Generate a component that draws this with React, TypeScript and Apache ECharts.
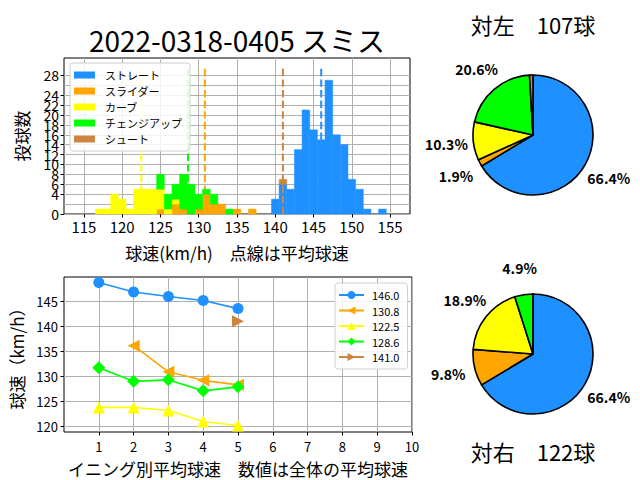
import React, { useEffect, useRef } from "react";
import * as echarts from "echarts";

const JP = "'Noto Sans CJK JP', sans-serif";

const pitchTypes = ["ストレート", "スライダー", "カーブ", "チェンジアップ", "シュート"];
const pitchColors = ["#1E90FF", "#FFA500", "#FFFF00", "#00FF00", "#CD853F"];
const meanSpeeds = [146.0, 130.8, 122.5, 128.6, 141.0];

const speedBins = [117, 118, 119, 120, 121, 122, 123, 124, 125, 126, 127, 128, 129, 130, 131, 132, 133, 134, 135, 136, 137, 138, 139, 140, 141, 142, 143, 144, 145, 146, 147, 148, 149, 150, 151, 152, 153, 154];
const countStraight = [0, 0, 0, 0, 0, 0, 0, 0, 0, 0, 0, 0, 0, 0, 0, 0, 0, 0, 0, 0, 0, 0, 0, 3, 6, 5, 13, 21, 17, 15, 27, 16, 14, 7, 5, 1, 0, 1];
const countSlider = [0, 0, 0, 0, 0, 0, 0, 0, 1, 0, 2, 1, 0, 1, 4, 2, 2, 0, 1, 0, 1, 0, 0, 0, 0, 0, 0, 0, 0, 0, 0, 0, 0, 0, 0, 0, 0, 0];
const countCurve = [1, 1, 4, 3, 1, 5, 5, 5, 4, 1, 1, 0, 0, 0, 0, 0, 0, 0, 0, 0, 0, 0, 0, 0, 0, 0, 0, 0, 0, 0, 0, 0, 0, 0, 0, 0, 0, 0];
const countChange = [0, 0, 0, 0, 0, 0, 0, 0, 3, 3, 3, 7, 6, 3, 1, 2, 0, 1, 0, 0, 0, 0, 0, 0, 0, 0, 0, 0, 0, 0, 0, 0, 0, 0, 0, 0, 0, 0];
const countShoot = [0, 0, 0, 0, 0, 0, 0, 0, 0, 0, 0, 0, 0, 0, 0, 0, 0, 0, 0, 0, 0, 0, 0, 0, 1, 0, 0, 0, 0, 0, 0, 0, 0, 0, 0, 0, 0, 0];

const histXTicks = [115, 120, 125, 130, 135, 140, 145, 150, 155];
const histYTicks = [0, 2, 4, 6, 8, 10, 12, 14, 16, 18, 20, 22, 24, 26, 28];

const innings = [1, 2, 3, 4, 5];
const inningStraight = [148.7, 146.8, 145.9, 145.1, 143.5];
const inningSlider = [null, 136.1, 130.9, 129.2, 128.3];
const inningCurve = [123.8, 123.8, 123.2, 121.0, 120.2];
const inningChange = [131.7, 129.0, 129.3, 127.1, 127.9];
const inningShoot = [null, null, null, null, 141.0];
const lineXTicks = [1, 2, 3, 4, 5, 6, 7, 8, 9, 10];
const lineYTicks = [120, 125, 130, 135, 140, 145];

const leftCounts = [71, 2, 11, 22, 1];
const rightCounts = [81, 12, 23, 6, 0];

const tickFont = { fontFamily: JP, color: "#000" };

function buildOption() {
  const allCounts = [countStraight, countSlider, countCurve, countChange, countShoot];
  const histSeries = allCounts.map((counts, t) => {
    const data: number[][] = [];
    counts.forEach((c, i) => {
      if (c > 0) {
        let base = 0;
        for (let k = 0; k < t; k++) base += allCounts[k][i];
        data.push([speedBins[i], base, c]);
      }
    });
    const color = pitchColors[t];
    return {
      type: "custom",
      name: pitchTypes[t],
      xAxisIndex: 0,
      yAxisIndex: 0,
      color,
      itemStyle: { color },
      z: 3,
      data,
      encode: { x: 0, y: 1 },
      renderItem: (params: any, api: any) => {
        const x = api.value(0);
        const base = api.value(1);
        const h = api.value(2);
        const p0 = api.coord([x - 0.5, base + h]);
        const p1 = api.coord([x + 0.5, base]);
        return {
          type: "rect",
          shape: { x: p0[0], y: p0[1], width: p1[0] - p0[0], height: p1[1] - p0[1] },
          style: { fill: color, stroke: color, lineWidth: 0.5 },
        };
      },
    };
  });

  const meanLineSeries = meanSpeeds.map((m, t) => ({
    type: "line",
    name: "mean" + t,
    xAxisIndex: 0,
    yAxisIndex: 0,
    symbol: "none",
    silent: true,
    z: t === 4 ? 4 : 1,
    data: [
      [m, 0],
      [m, 30],
    ],
    lineStyle: { color: pitchColors[t], width: 2, type: [7.4, 3.2] },
  }));

  const inningVals = [inningStraight, inningSlider, inningCurve, inningChange, inningShoot];
  const symbols = ["circle", "triangle", "triangle", "diamond", "triangle"];
  const rotates = [0, 90, 0, 0, -90];
  const sizes = [11, 12, 12, 13, 12];
  const lineSeries = inningVals.map((vals, t) => ({
    type: "line",
    name: meanSpeeds[t].toFixed(1),
    xAxisIndex: 1,
    yAxisIndex: 1,
    symbol: symbols[t],
    symbolRotate: rotates[t],
    symbolSize: sizes[t],
    showAllSymbol: true,
    connectNulls: false,
    color: pitchColors[t],
    itemStyle: { color: pitchColors[t] },
    lineStyle: { color: pitchColors[t], width: 1.6 },
    z: 3 + t,
    data: innings.map((x, i) => [x, vals[i]]),
  }));

  const pieSeries = (counts: number[], cy: number, side: string) => {
    const total = counts.reduce((a, b) => a + b, 0);
    const data = counts.map((v, i) => ({
      name: pitchTypes[i] + side,
      value: v,
      itemStyle: { color: pitchColors[i] },
    }));
    return [
      {
        type: "pie",
        center: [533, cy],
        radius: 60,
        startAngle: 90,
        clockwise: true,
        silent: true,
        label: { show: false },
        labelLine: { show: false },
        itemStyle: { borderColor: "#000", borderWidth: 1.6 },
        data,
      },
      {
        type: "pie",
        center: [533, cy],
        radius: [78, 90],
        startAngle: 90,
        clockwise: true,
        silent: true,
        itemStyle: { color: "rgba(0,0,0,0)", borderWidth: 0 },
        labelLine: { show: false },
        label: {
          show: true,
          position: "inside",
          fontFamily: JP,
          fontWeight: "bold",
          fontSize: 14,
          color: "#000",
          formatter: (p: any) => {
            const pct = (counts[p.dataIndex] / total) * 100;
            return pct >= 1 ? pct.toFixed(1) + "%" : "";
          },
        },
        data: data.map((d) => ({ ...d, itemStyle: { color: "rgba(0,0,0,0)" } })),
      },
    ];
  };

  const axisCommon = {
    axisLine: { show: false },
    splitLine: { show: true, lineStyle: { color: "#b0b0b0", width: 1 } },
  };

  return {
    animation: false,
    graphic: [
      {
        type: "text",
        style: { text: "2022-0318-0405 スミス", x: 237, y: 40, textAlign: "center", textVerticalAlign: "middle", font: `28px ${JP}`, fill: "#000" },
      },
      {
        type: "text",
        style: { text: "対左　107球", x: 533, y: 24, textAlign: "center", textVerticalAlign: "middle", font: `22px ${JP}`, fill: "#000" },
      },
      {
        type: "text",
        style: { text: "対右　122球", x: 533, y: 451, textAlign: "center", textVerticalAlign: "middle", font: `22px ${JP}`, fill: "#000" },
      },
    ],
    legend: [
      {
        data: pitchTypes,
        orient: "vertical",
        left: 70,
        top: 63,
        padding: [5, 8, 5, 4],
        itemWidth: 21,
        itemHeight: 7,
        itemGap: 2,
        icon: "rect",
        selectedMode: false,
        backgroundColor: "rgba(255,255,255,0.85)",
        borderColor: "#d0d0d0",
        borderWidth: 1,
        borderRadius: 3,
        textStyle: { fontFamily: JP, fontSize: 11, color: "#000", lineHeight: 14, padding: [0, 0, 0, 5] },
      },
      {
        data: meanSpeeds.map((m) => m.toFixed(1)),
        orient: "vertical",
        left: 335,
        top: 283,
        padding: [5, 8, 5, 3],
        itemWidth: 25,
        itemHeight: 10,
        itemGap: 1.5,
        selectedMode: false,
        backgroundColor: "rgba(255,255,255,0.85)",
        borderColor: "#d0d0d0",
        borderWidth: 1,
        borderRadius: 3,
        textStyle: { fontFamily: JP, fontSize: 11, color: "#000", lineHeight: 14, padding: [0, 0, 0, 3] },
      },
    ],
    grid: [
      { left: 64, top: 58, width: 346, height: 156, show: true, borderColor: "#000", borderWidth: 1, backgroundColor: "rgba(0,0,0,0)", containLabel: false, outerBoundsMode: "none" },
      { left: 64, top: 277, width: 348, height: 155, show: true, borderColor: "#000", borderWidth: 1, backgroundColor: "rgba(0,0,0,0)", containLabel: false, outerBoundsMode: "none" },
    ],
    xAxis: [
      {
        type: "value",
        gridIndex: 0,
        min: 112.4,
        max: 157.6,
        ...axisCommon,
        axisTick: { show: true, length: 3.5, lineStyle: { color: "#000" }, customValues: histXTicks },
        axisLabel: { ...tickFont, fontSize: 15, margin: 5, customValues: histXTicks, showMinLabel: true, showMaxLabel: true },
        name: "球速(km/h)　点線は平均球速",
        nameLocation: "middle",
        nameGap: 30,
        nameTextStyle: { fontFamily: JP, fontSize: 17, color: "#000" },
      },
      {
        type: "value",
        gridIndex: 1,
        min: 0,
        max: 10,
        ...axisCommon,
        axisTick: { show: true, length: 3.5, lineStyle: { color: "#000" }, customValues: lineXTicks },
        axisLabel: { ...tickFont, fontSize: 13, margin: 8, customValues: lineXTicks, showMinLabel: true, showMaxLabel: true },
        name: "イニング別平均球速　数値は全体の平均球速",
        nameLocation: "middle",
        nameGap: 28,
        nameTextStyle: { fontFamily: JP, fontSize: 17, color: "#000" },
      },
    ],
    yAxis: [
      {
        type: "value",
        gridIndex: 0,
        min: 0,
        max: 31.5,
        ...axisCommon,
        axisTick: { show: true, length: 3.5, lineStyle: { color: "#000" }, customValues: histYTicks },
        axisLabel: { ...tickFont, fontSize: 14, lineHeight: 10, margin: 5, customValues: histYTicks, showMinLabel: true, showMaxLabel: true, hideOverlap: false },
        name: "投球数",
        nameLocation: "middle",
        nameRotate: 90,
        nameGap: 34,
        nameTextStyle: { fontFamily: JP, fontSize: 17, color: "#000" },
      },
      {
        type: "value",
        gridIndex: 1,
        min: 118.9,
        max: 149.8,
        ...axisCommon,
        axisTick: { show: true, length: 3.5, lineStyle: { color: "#000" }, customValues: lineYTicks },
        axisLabel: { ...tickFont, fontSize: 13, margin: 6, customValues: lineYTicks, showMinLabel: true, showMaxLabel: true },
        name: "球速（km/h）",
        nameLocation: "middle",
        nameRotate: 90,
        nameGap: 38,
        nameTextStyle: { fontFamily: JP, fontSize: 17, color: "#000" },
      },
    ],
    series: [
      ...meanLineSeries,
      ...histSeries,
      ...lineSeries,
      ...pieSeries(leftCounts, 135, "(対左)"),
      ...pieSeries(rightCounts, 354, "(対右)"),
    ],
  };
}

export default function App() {
  const ref = useRef<HTMLDivElement>(null);
  useEffect(() => {
    if (!ref.current) return;
    const chart = echarts.init(ref.current, null, { renderer: "svg" });
    chart.setOption(buildOption() as any);
    return () => chart.dispose();
  }, []);
  return <div ref={ref} style={{ position: "fixed", left: 0, top: 0, width: 640, height: 480, background: "#fff" }} />;
}
